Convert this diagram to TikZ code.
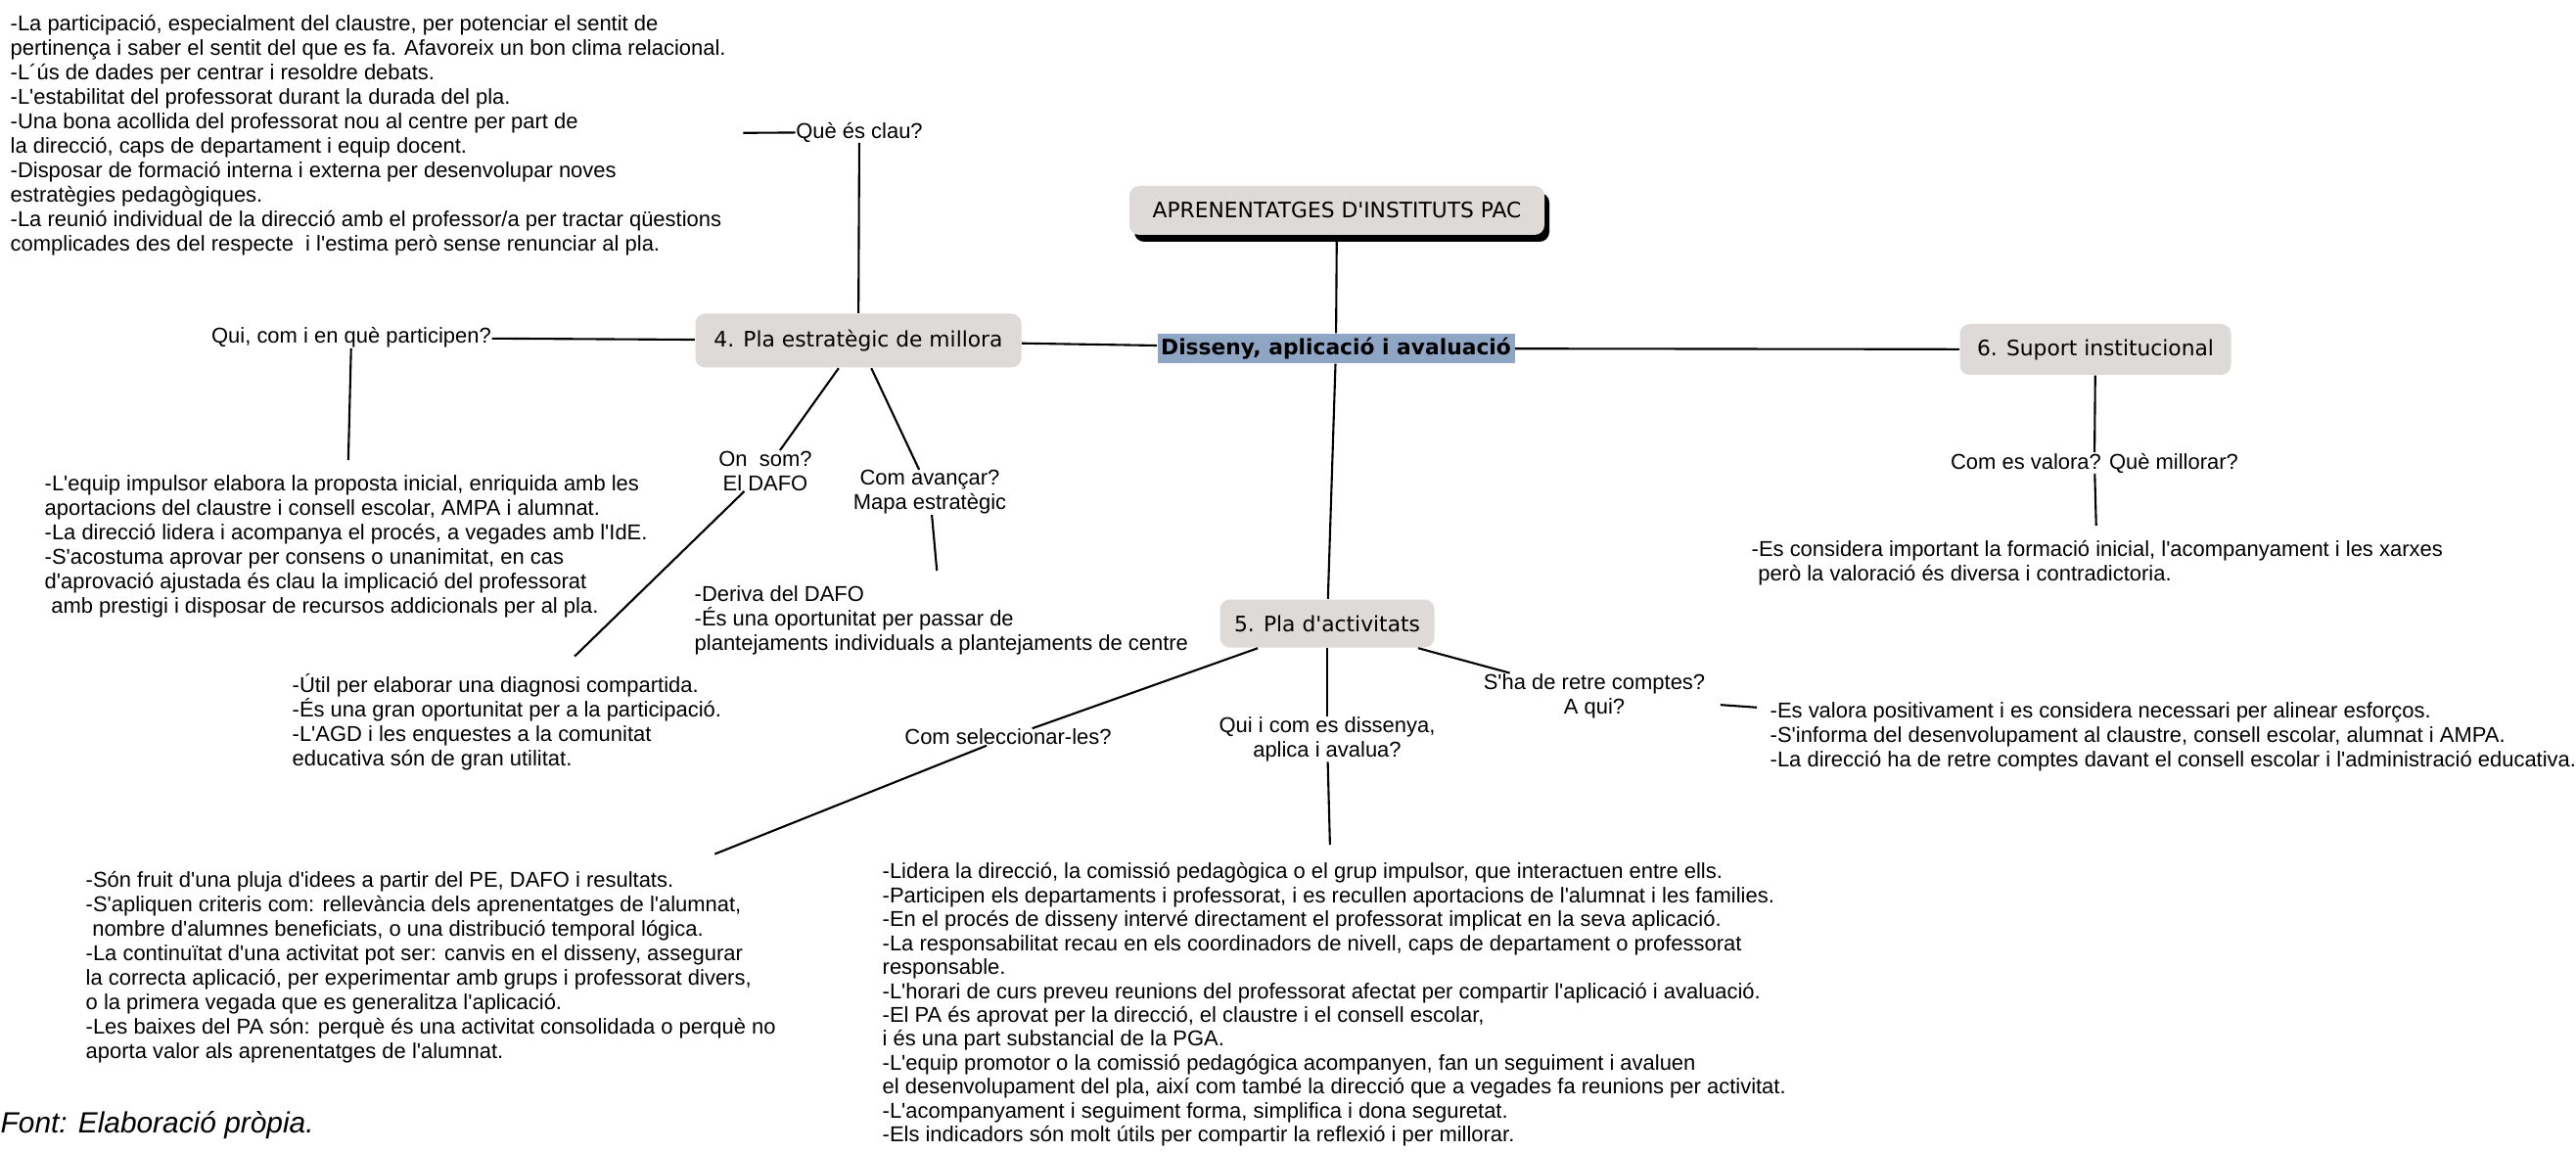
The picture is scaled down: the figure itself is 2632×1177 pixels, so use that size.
\documentclass[tikz,border=0pt]{standalone}
\usepackage{fontspec}
\setmainfont{Liberation Sans}[Ligatures=TeXOff]
\newfontfamily\boxfont{DejaVu Sans}
\usetikzlibrary{shadows}
\definecolor{boxgray}{RGB}{222,218,216}
\definecolor{boxblue}{RGB}{143,165,196}
\tikzset{
  branch/.style={fill=boxgray, rounded corners=1mm, inner sep=0pt, font=\boxfont\fontsize{6.2}{7.4}\selectfont},
  leaf/.style={align=center, inner sep=0pt, font=\fontsize{6.25}{7.1}\selectfont},
  notes/.style={align=left, anchor=north west, inner sep=0pt, font=\fontsize{6.25}{7.1}\selectfont},
  link/.style={line width=0.6pt}
}
\begin{document}
\begin{tikzpicture}[x=0.1mm, y=-0.1mm]
\useasboundingbox (0,0) rectangle (2632,1177);
\fill[white] (0,0) rectangle (2632,1177);

\node[branch, minimum width=42.4mm, minimum height=5mm,
  drop shadow={shadow xshift=0.5mm, shadow yshift=-0.7mm, fill=black, opacity=1}]
  (title) at (1366,215) {APRENENTATGES D'INSTITUTS PAC};
\node[branch, fill=boxblue, rounded corners=0pt, minimum width=36.5mm, minimum height=3mm,
  font=\boxfont\bfseries\fontsize{6.2}{7.4}\selectfont] (disseny) at (1365,356) {Disseny, aplicació i avaluació};
\node[branch, minimum width=33.3mm, minimum height=5.5mm] (pem) at (877,348) {4. Pla estratègic de millora};
\node[branch, minimum width=27.7mm, minimum height=5.2mm] (sup) at (2141,357) {6. Suport institucional};
\node[branch, minimum width=21.9mm, minimum height=4.9mm] (pda) at (1356,637) {5. Pla d'activitats};

\node[leaf] (clau) at (878,135) {Què és clau?};
\node[leaf] (qui) at (359,345) {Qui, com i en què participen?};
\node[leaf] (dafo) at (782,481) {On\ \ som?\\El DAFO};
\node[leaf] (avan) at (950,503) {Com avançar?\\Mapa estratègic};
\node[leaf] (sel) at (1030,753) {Com seleccionar-les?};
\node[leaf] (qcom) at (1356,755) {Qui i com es dissenya,\\aplica i avalua?};
\node[leaf] (retre) at (1629,711) {S'ha de retre comptes?\\A qui?};
\node[leaf] (valora) at (2140,473) {Com es valora? Què millorar?};

\node[notes] (tl) at (10,15) {-La participació, especialment del claustre, per potenciar el sentit de\\
pertinença i saber el sentit del que es fa. Afavoreix un bon clima relacional.\\
-L´ús de dades per centrar i resoldre debats.\\
-L'estabilitat del professorat durant la durada del pla.\\
-Una bona acollida del professorat nou al centre per part de\\
la direcció, caps de departament i equip docent.\\
-Disposar de formació interna i externa per desenvolupar noves\\
estratègies pedagògiques.\\
-La reunió individual de la direcció amb el professor/a per tractar qüestions\\
complicades des del respecte\ \ i l'estima però sense renunciar al pla.};
\node[notes] (equip) at (45,485) {-L'equip impulsor elabora la proposta inicial, enriquida amb les\\
aportacions del claustre i consell escolar, AMPA i alumnat.\\
-La direcció lidera i acompanya el procés, a vegades amb l'IdE.\\
-S'acostuma aprovar per consens o unanimitat, en cas\\
d'aprovació ajustada és clau la implicació del professorat\\
\hspace*{0.3em}amb prestigi i disposar de recursos addicionals per al pla.};
\node[notes] (deriva) at (709,598) {-Deriva del DAFO\\
-És una oportunitat per passar de\\
plantejaments individuals a plantejaments de centre};
\node[notes] (util) at (298,688) {-Útil per elaborar una diagnosi compartida.\\
-És una gran oportunitat per a la participació.\\
-L'AGD i les enquestes a la comunitat\\
educativa són de gran utilitat.};
\node[notes] (son) at (87,890) {-Són fruit d'una pluja d'idees a partir del PE, DAFO i resultats.\\
-S'apliquen criteris com: rellevància dels aprenentatges de l'alumnat,\\
\hspace*{0.3em}nombre d'alumnes beneficiats, o una distribució temporal lógica.\\
-La continuïtat d'una activitat pot ser: canvis en el disseny, assegurar\\
la correcta aplicació, per experimentar amb grups i professorat divers,\\
o la primera vegada que es generalitza l'aplicació.\\
-Les baixes del PA són: perquè és una activitat consolidada o perquè no\\
aporta valor als aprenentatges de l'alumnat.};
\node[notes, font=\fontsize{6.25}{6.95}\selectfont] (lidera) at (901,881) {-Lidera la direcció, la comissió pedagògica o el grup impulsor, que interactuen entre ells.\\
-Participen els departaments i professorat, i es recullen aportacions de l'alumnat i les families.\\
-En el procés de disseny intervé directament el professorat implicat en la seva aplicació.\\
-La responsabilitat recau en els coordinadors de nivell, caps de departament o professorat\\
responsable.\\
-L'horari de curs preveu reunions del professorat afectat per compartir l'aplicació i avaluació.\\
-El PA és aprovat per la direcció, el claustre i el consell escolar,\\
i és una part substancial de la PGA.\\
-L'equip promotor o la comissió pedagógica acompanyen, fan un seguiment i avaluen\\
el desenvolupament del pla, així com també la direcció que a vegades fa reunions per activitat.\\
-L'acompanyament i seguiment forma, simplifica i dona seguretat.\\
-Els indicadors són molt útils per compartir la reflexió i per millorar.};
\node[notes] (considera) at (1789,552) {-Es considera important la formació inicial, l'acompanyament i les xarxes\\
\hspace*{0.3em}però la valoració és diversa i contradictoria.};
\node[notes] (comptes) at (1808,717) {-Es valora positivament i es considera necessari per alinear esforços.\\
-S'informa del desenvolupament al claustre, consell escolar, alumnat i AMPA.\\
-La direcció ha de retre comptes davant el consell escolar i l'administració educativa.};
\node[anchor=west, inner sep=0pt, font=\itshape\fontsize{8.5}{10}\selectfont] (source) at (0,1150) {Font: Elaboració pròpia.};

\draw[link] (title) -- (disseny);
\draw[link] (disseny) -- (pem);
\draw[link] (disseny) -- (sup);
\draw[link] (disseny) -- (pda);
\draw[link] (pem) -- (clau);
\draw[link, shorten >=1.7mm] (clau) -- (tl);
\draw[link] (pem) -- (qui);
\draw[link, shorten >=1.5mm] (qui) -- (equip);
\draw[link] (pem) -- (dafo);
\draw[link] (pem) -- (avan);
\draw[link, shorten >=2.5mm] (dafo) -- (util);
\draw[link, shorten >=1.5mm] (avan) -- (deriva);
\draw[link] (pda) -- (sel);
\draw[link, shorten >=4.7mm] (sel) -- (son);
\draw[link] (pda) -- (qcom);
\draw[link, shorten >=1.8mm] (qcom) -- (lidera);
\draw[link] (pda) -- (retre);
\draw[link, shorten <=1.5mm, shorten >=1.3mm] (retre) -- (comptes);
\draw[link] (sup) -- (valora);
\draw[link, shorten >=1.5mm] (valora) -- (considera);
\end{tikzpicture}
\end{document}
